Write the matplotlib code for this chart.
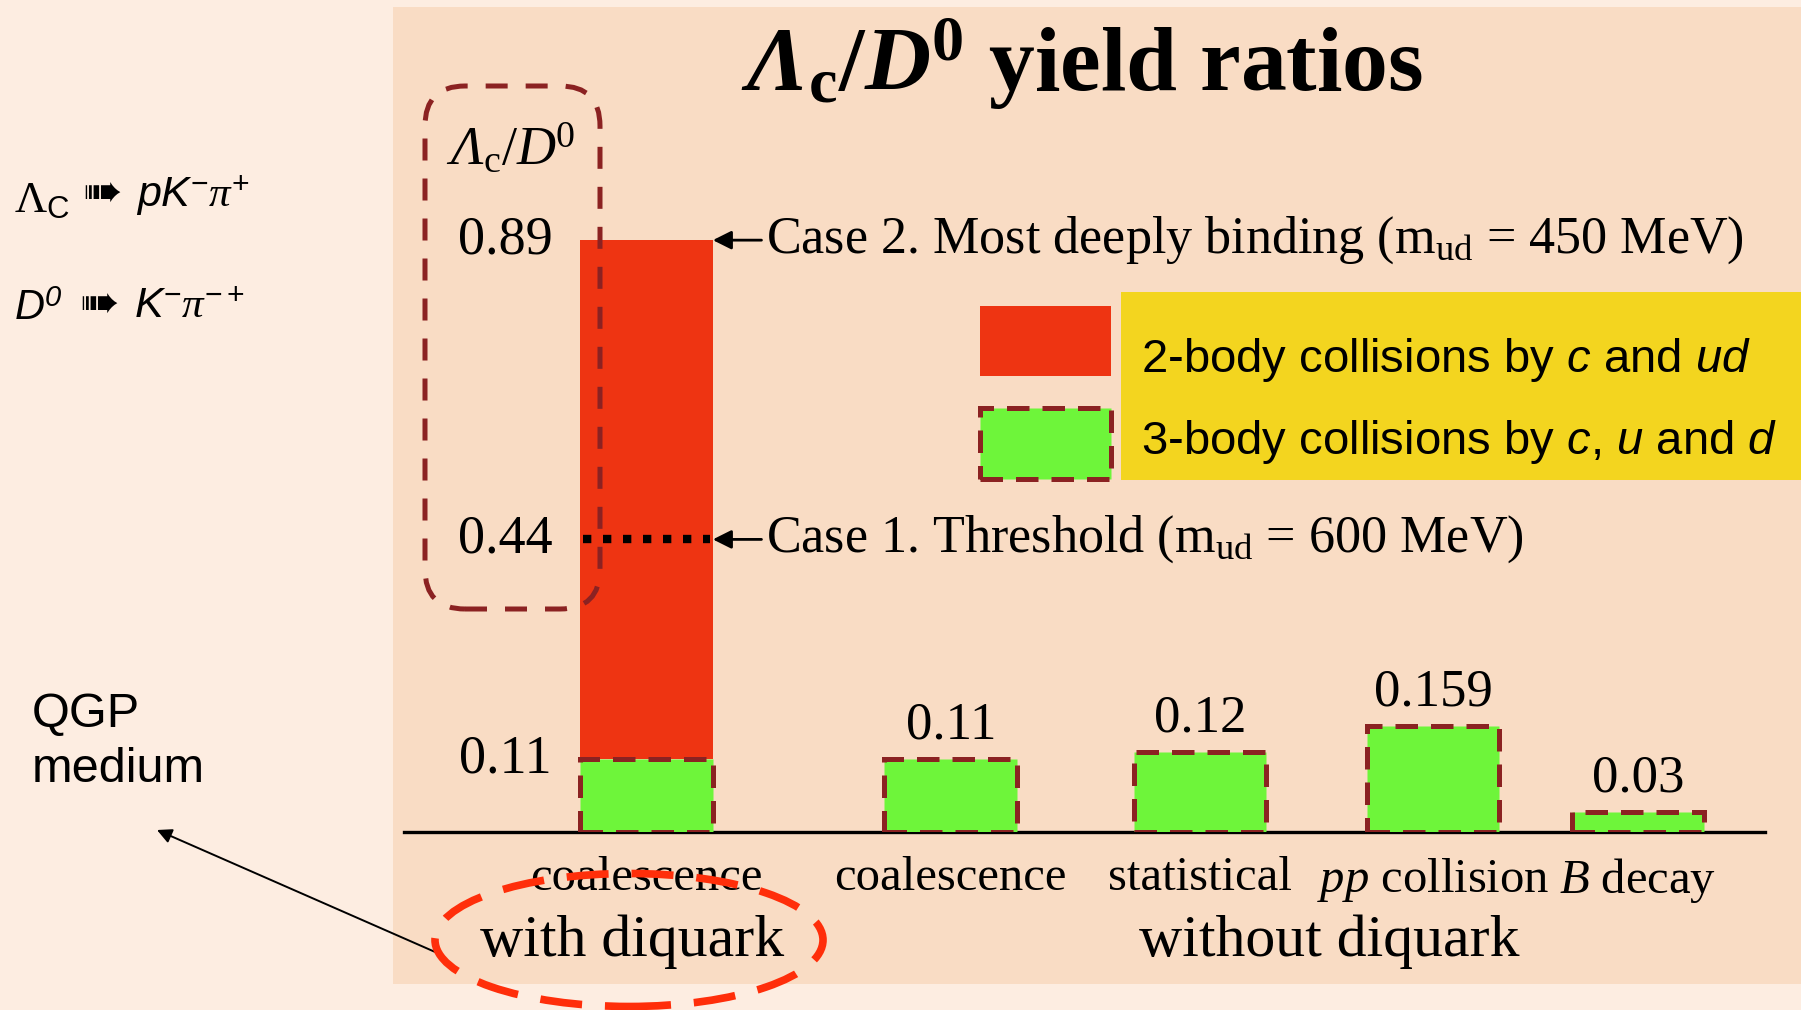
import matplotlib
matplotlib.use("Agg")
import matplotlib.pyplot as plt
from matplotlib.patches import Rectangle, FancyBboxPatch, Ellipse, FancyArrowPatch
from matplotlib.transforms import blended_transform_factory

# ---- data -----------------------------------------------------------------
categories = ["coalescence", "coalescence", "statistical",
              r"$pp$ collision", r"$B$ decay"]
three_body = [0.11, 0.11, 0.12, 0.159, 0.03]     # c + u + d collisions
diquark_total = 0.89                              # case 2, deepest binding
threshold_ratio = 0.44                            # case 1, threshold
axis_marks = [0.89, 0.44, 0.11]
groups = ["with diquark", "without diquark"]

# ---- layout ---------------------------------------------------------------
xpos = [0.0, 1.216, 2.212, 3.144, 3.964]
bar_w = 0.53

RED = "#EE3412"
GREEN = "#6EF53A"
DARK = "#8B2222"
YELLOW = "#F3D51F"
PANEL = "#F9DCC4"
OUTER = "#FDEDE1"
ELL = "#FF2E0A"

plt.rcParams.update({
    "mathtext.fontset": "custom",
    "mathtext.rm": "Liberation Serif",
    "mathtext.it": "Liberation Serif:italic",
    "mathtext.bf": "Liberation Serif:bold",
    "mathtext.bfit": "Liberation Serif:bold:italic",
    "mathtext.sf": "Liberation Sans:italic",
    "mathtext.tt": "Liberation Serif:italic",
})

W, H = 1801, 1010
fig = plt.figure(figsize=(W / 100, H / 100), dpi=100, facecolor=OUTER)
T = fig.dpi_scale_trans


def P(x, y):
    """pixel position (from top-left) -> inches for dpi_scale_trans"""
    return (x / 100, (H - y) / 100)


# background panel
fig.add_artist(Rectangle(P(393, 984), (W - 393) / 100, (984 - 7) / 100,
                         transform=T, facecolor=PANEL, edgecolor="none",
                         zorder=-2))

# ---- bar axes -------------------------------------------------------------
ax_left, ax_right, ax_base = 404, 1765, 832
unit_px = 665
ax = fig.add_axes([ax_left / W, (H - ax_base) / H,
                   (ax_right - ax_left) / W, unit_px / H])
ax.set_facecolor("none")
ax.set_xlim(-0.97, 4.472)
ax.set_ylim(0, 1.0)
for s in ("left", "right", "top"):
    ax.spines[s].set_visible(False)
ax.spines["bottom"].set_linewidth(2.4)
ax.set_yticks([])
ax.set_xticks(xpos, categories)
ax.tick_params(axis="x", length=0, pad=17)
for lab in ax.get_xticklabels():
    lab.set_fontfamily("Liberation Serif")
    lab.set_fontsize(35)

dash_style = (0, (4.5, 2.6))

# two-body (diquark) part stacked on the first bar
ax.bar(xpos[0], diquark_total - three_body[0], bottom=three_body[0],
       width=bar_w, color=RED, zorder=2)
# three-body parts
ax.bar(xpos, three_body, width=bar_w, color=GREEN, edgecolor=DARK,
       linewidth=3.6, linestyle=dash_style, zorder=3)

# threshold line inside the first bar
ax.hlines(threshold_ratio, xpos[0] - bar_w / 2 + 0.01, xpos[0] + bar_w / 2 - 0.01,
          colors="black", linewidth=6, linestyles=(0, (1, 1.4)), zorder=4)

# value labels above bars without diquark
for x, v in zip(xpos[1:], three_body[1:]):
    ax.annotate(f"{v:g}", (x, v), xytext=(0, 7), textcoords="offset points",
                ha="center", va="bottom", fontsize=38,
                fontfamily="Liberation Serif")

# case annotations with arrows pointing at the first bar
case_texts = [r"Case 2. Most deeply binding (m$_{\mathrm{ud}}$ = 450 MeV)",
              r"Case 1. Threshold (m$_{\mathrm{ud}}$ = 600 MeV)"]
for yv, txt in zip([diquark_total, threshold_ratio], case_texts):
    ax.annotate(txt, (xpos[0] + bar_w / 2, yv), xytext=(38, 0),
                textcoords="offset points", ha="left", va="center",
                fontsize=37.5, fontfamily="Liberation Serif",
                arrowprops=dict(arrowstyle="-|>", color="black", lw=2,
                                mutation_scale=28, shrinkA=1, shrinkB=0))

# y marks in the dashed box
btr = blended_transform_factory(T, ax.transData)
for v in axis_marks:
    ax.text(5.05, v, f"{v:g}", transform=btr, ha="center", va="center",
            fontsize=39, fontfamily="Liberation Serif")

# dashed rounded box around the axis marks
fig.add_artist(FancyBboxPatch(P(425, 609), 1.75, (609 - 86) / 100,
                              boxstyle="round,pad=0,rounding_size=0.4",
                              transform=T, fill=False, edgecolor=DARK,
                              linewidth=3.6, linestyle=(0, (4.4, 3.6)),
                              zorder=6))
fig.text(*P(511, 150), r"$\mathtt{\Lambda}_{\mathrm{c}}/\mathtt{D}^{\mathrm{0}}$",
         transform=T, ha="center", va="center", fontsize=39,
         fontfamily="Liberation Serif")

# title
fig.text(*P(1082, 64),
         r"$\mathbfit{\Lambda}_{\mathbf{c}}\mathbf{/}\mathbfit{D}^{\mathbf{0}}$ yield ratios",
         transform=T, ha="center", va="center", fontsize=66,
         fontfamily="Liberation Serif", fontweight="bold")

# group labels
fig.text(*P(632, 942), groups[0], transform=T, ha="center", va="center",
         fontsize=43, fontfamily="Liberation Serif")
fig.text(*P(1329, 942), groups[1], transform=T, ha="center", va="center",
         fontsize=43, fontfamily="Liberation Serif")

# legend
fig.add_artist(Rectangle(P(1121, 480), (W - 1121) / 100, (480 - 292) / 100,
                         transform=T, facecolor=YELLOW, edgecolor="none",
                         zorder=1))
fig.add_artist(Rectangle(P(980, 376), 1.31, 0.70, transform=T,
                         facecolor=RED, edgecolor="none", zorder=2))
fig.add_artist(Rectangle(P(980, 479), 1.31, 0.71, transform=T,
                         facecolor=GREEN, edgecolor=DARK, linewidth=3.6,
                         linestyle=dash_style, zorder=2))
fig.text(*P(1141, 360), r"2-body collisions by $\mathsf{c}$ and $\mathsf{ud}$",
         transform=T, ha="left", va="center", fontsize=34,
         fontfamily="Liberation Sans", zorder=3)
fig.text(*P(1141, 442),
         r"3-body collisions by $\mathsf{c}$, $\mathsf{u}$ and $\mathsf{d}$",
         transform=T, ha="left", va="center", fontsize=34,
         fontfamily="Liberation Sans", zorder=3)

# decay channels
fig.text(*P(14, 201), r"$\mathrm{\Lambda}_{\mathdefault{C}}$", transform=T,
         ha="left", va="center", fontsize=32, fontfamily="Liberation Sans")
fig.text(*P(14, 309), r"$\mathsf{D}^{\mathsf{0}}$", transform=T,
         ha="left", va="center", fontsize=30, fontfamily="Liberation Sans")
for yy, xx in [(195, 82), (306, 79)]:
    fig.text(*P(xx, yy), "\u27a0", transform=T, ha="left", va="center",
             fontsize=34, fontfamily="DejaVu Sans")
fig.text(*P(136, 196), r"$\mathsf{pK}^{\mathdefault{-}}\mathit{\pi}^{\mathdefault{+}}$",
         transform=T, ha="left", va="center", fontsize=31,
         fontfamily="Liberation Sans")
fig.text(*P(134, 307), r"$\mathsf{K}^{\mathdefault{-}}\mathit{\pi}^{\mathdefault{-+}}$",
         transform=T, ha="left", va="center", fontsize=31,
         fontfamily="Liberation Sans")

# QGP medium callout
fig.text(*P(32, 742), "QGP\nmedium", transform=T, ha="left", va="center",
         fontsize=35, fontfamily="Liberation Sans", linespacing=1.3)
fig.add_artist(FancyArrowPatch(P(442, 955), P(157, 830), transform=T,
                               arrowstyle="-|>", mutation_scale=22,
                               color="black", lw=1.4, shrinkA=0, shrinkB=0,
                               zorder=5))
fig.add_artist(Ellipse(P(629, 940), 3.88, 1.33, transform=T, fill=False,
                       edgecolor=ELL, linewidth=5.5,
                       linestyle=(0, (5.5, 3)), zorder=6))

fig.savefig("out.png", dpi=100, facecolor=OUTER)
